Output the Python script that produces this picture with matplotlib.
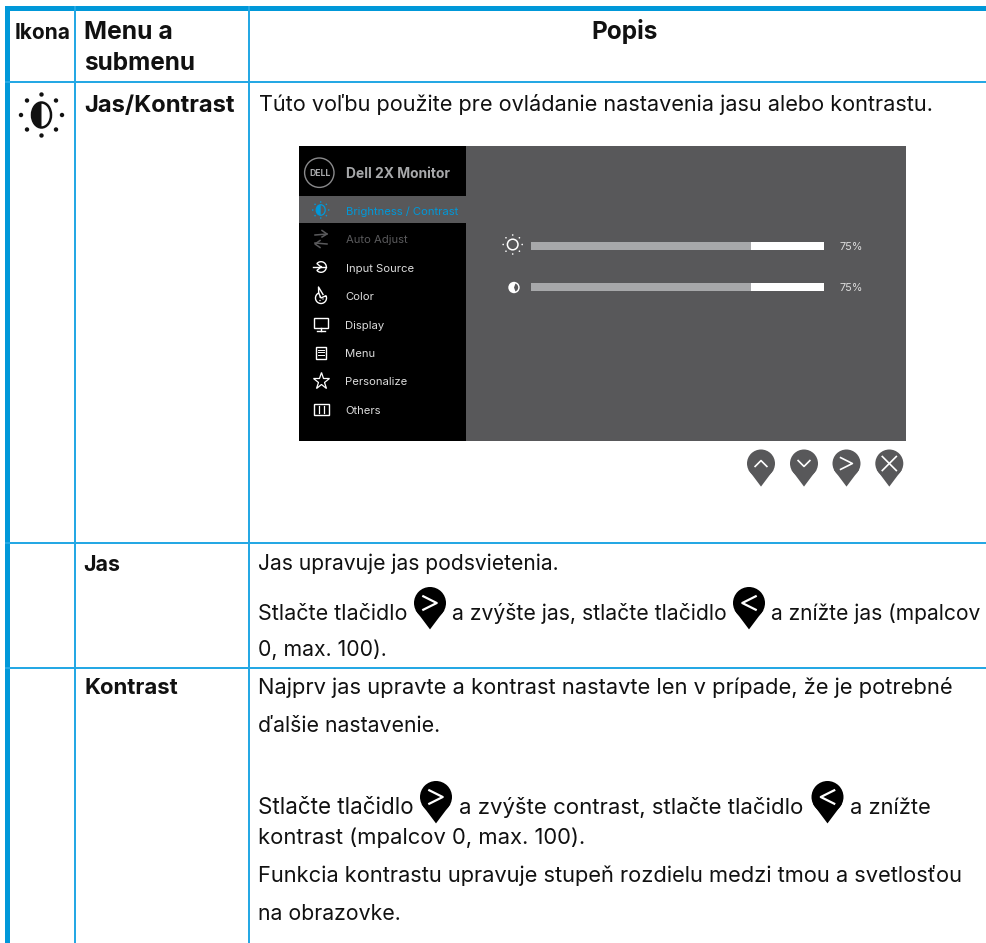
# -*- coding: utf-8 -*-
import math
import matplotlib
matplotlib.use("Agg")
import matplotlib.pyplot as plt
from matplotlib.patches import Rectangle, Circle, Polygon, Ellipse, Wedge

BLUE = '#0098d9'
LINE = '#25a8e4'
DARK = '#58585a'
GREY = '#a7a8aa'
INK = '#111111'

# donnees du tableau
header = ["Ikona", "Menu a", "submenu", "Popis"]
rows = ["Jas/Kontrast", "Jas", "Kontrast"]
menu_items = ["Brightness / Contrast", "Auto Adjust", "Input Source", "Color",
              "Display", "Menu", "Personalize", "Others"]
item_colors = ['#0098d9', '#5a5a5c', '#dcdcdc', '#dcdcdc', '#dcdcdc', '#dcdcdc', '#dcdcdc', '#dcdcdc']
slider_values = [75, 75]
first_row_text = "Túto voľbu použite pre ovládanie nastavenia jasu alebo kontrastu."
jas_lines = ["Jas upravuje jas podsvietenia.", "Stlačte tlačidlo", "a zvýšte jas, stlačte tlačidlo",
             "a znížte jas (mpalcov", "0, max. 100)."]
kontrast_lines = ["Najprv jas upravte a kontrast nastavte len v prípade, že je potrebné",
                  "ďalšie nastavenie.", "Stlačte tlačidlo", "a zvýšte contrast, stlačte tlačidlo",
                  "a znížte", "kontrast (mpalcov 0, max. 100).",
                  "Funkcia kontrastu upravuje stupeň rozdielu medzi tmou a svetlosťou",
                  "na obrazovke."]

plt.rcParams['font.family'] = ['Inter', 'DejaVu Sans']
fig = plt.figure(figsize=(9.86, 9.43), dpi=100)
ax = fig.add_axes([0, 0, 1, 1])
ax.set_xlim(0, 986)
ax.set_ylim(943, 0)
ax.axis('off')
renderer = fig.canvas.get_renderer()


def rect(x0, y0, x1, y1, color, z=2):
    ax.add_patch(Rectangle((x0, y0), x1 - x0, y1 - y0, fc=color, ec='none', zorder=z))


def fit(x0, x1, y, s, color=INK, weight='normal'):
    # texte ajuste a la largeur
    t = ax.text(x0, y, s, fontsize=15, color=color, fontweight=weight, ha='left', va='baseline', zorder=6)
    w = t.get_window_extent(renderer).width
    t.set_fontsize(15 * (x1 - x0) / w)
    return t


def pin(cx, cy, r, color=DARK, sym='>', lw=1.4):
    # bouton en forme de goutte
    ax.add_patch(Circle((cx, cy), r, fc=color, ec='none', zorder=5))
    ax.add_patch(Polygon([(cx - r * 0.9, cy + r * 0.45), (cx + r * 0.9, cy + r * 0.45), (cx, cy + r * 1.65)],
                         fc=color, ec='none', zorder=5))
    s = r * 0.42
    if sym == '>':
        pts = [(cx - s, cy - s), (cx + s, cy), (cx - s, cy + s)]
    elif sym == '<':
        pts = [(cx + s, cy - s), (cx - s, cy), (cx + s, cy + s)]
    elif sym == '^':
        pts = [(cx - s, cy + s * 0.5), (cx, cy - s * 0.5), (cx + s, cy + s * 0.5)]
    elif sym == 'v':
        pts = [(cx - s, cy - s * 0.5), (cx, cy + s * 0.5), (cx + s, cy - s * 0.5)]
    else:
        s = r * 0.5
        ax.plot([cx - s, cx + s], [cy - s, cy + s], color='white', lw=lw, zorder=6)
        ax.plot([cx - s, cx + s], [cy + s, cy - s], color='white', lw=lw, zorder=6)
        return
    ax.plot(*zip(*pts), color='white', lw=lw, zorder=6)


def rays(cx, cy, ray, color, dot):
    for a in range(0, 360, 45):
        ax.add_patch(Circle((cx + ray * math.cos(math.radians(a)), cy + ray * math.sin(math.radians(a))),
                            dot, fc=color, ec='none', zorder=6))


def half_sun(cx, cy, w, h, ray, color, dot, lw=1.5, fill='white'):
    rays(cx, cy, ray, color, dot)
    e = Ellipse((cx, cy), w, h, fc=fill, ec=color, lw=lw, zorder=6)
    ax.add_patch(e)
    wd = Wedge((cx, cy), max(w, h), 90, 270, fc=color, ec='none', zorder=7)
    ax.add_patch(wd)
    wd.set_clip_path(e)


# bordures du tableau
rect(5, 6, 986, 11, BLUE)
rect(5, 6, 10, 943, BLUE)
for x in [75.2, 249.3]:
    rect(x - 1, 6, x + 1, 943, LINE)
for y in [82, 542.7, 667.5]:
    rect(5, y - 1, 986, y + 1, LINE)

# en-tete
fit(14.5, 70.5, 39, header[0], weight='bold')
fit(84, 172.5, 39, header[1], weight='bold')
fit(84, 195, 70.5, header[2], weight='bold')
fit(591, 657.5, 39.3, header[3], weight='bold')

# colonne menu
fit(84, 235, 112, rows[0], weight='bold')
fit(83.5, 120.5, 571, rows[1], weight='bold')
fit(84, 178, 694, rows[2], weight='bold')

# icone de la premiere ligne
half_sun(41.5, 115, 19, 25, 20.5, INK, 2.2, lw=1.8)

# texte de droite
fit(259, 934, 111, first_row_text)
fit(257.5, 558, 570.5, jas_lines[0])
fit(257.5, 407, 620, jas_lines[1])
pin(430, 603, 16, '#000000', '>', lw=1.6)
fit(452, 727, 620, jas_lines[2])
pin(749, 603, 16, '#000000', '<', lw=1.6)
fit(771, 981, 620, jas_lines[3])
fit(257.5, 386.5, 656, jas_lines[4])

fit(257.5, 954, 694.5, kontrast_lines[0])
fit(257.5, 440, 732.5, kontrast_lines[1])
fit(257.5, 413, 813.5, kontrast_lines[2])
pin(436, 797, 16, '#000000', '>', lw=1.6)
fit(459, 804, 813.5, kontrast_lines[3])
pin(827.5, 797, 16, '#000000', '<', lw=1.6)
fit(850, 931, 813.5, kontrast_lines[4])
fit(257.5, 585, 844.5, kontrast_lines[5])
fit(257.5, 965, 882, kontrast_lines[6])
fit(257.5, 400.5, 919.5, kontrast_lines[7])

# ecran OSD
rect(299, 146, 466, 441, '#000000', 3)
rect(466, 146, 906, 441, DARK, 3)
rect(299, 196, 466, 223, DARK, 3)
ax.add_patch(Circle((319.3, 172.7), 14.7, fc='none', ec='#8a8a8c', lw=1, zorder=5))
fit(309, 330, 176, "DELL", color='#a7a8aa', weight='bold')
fit(345.5, 450, 177.5, "Dell 2X Monitor", color='#a7a8aa', weight='bold')

base = fit(345.5, 458.5, 215, menu_items[0], color=item_colors[0])
for i, item in enumerate(menu_items[1:], start=1):
    ax.text(345.5, 215 + i * 28.4, item, fontsize=base.get_fontsize(), color=item_colors[i],
            ha='left', va='baseline', zorder=6)

# icones du menu
half_sun(320.7, 210, 9, 10.5, 8, '#0098d9', 0.8, lw=0.9, fill=DARK)
# ajustement auto
for ys, head in [((235, 234), [(322, 230.5), (327, 234), (322, 237)]),
                 ((243, 244), [(320, 240.5), (315, 244), (320, 247.5)])]:
    ax.plot([315, 327], ys, color='#5a5a5c', lw=1.1, zorder=6)
    ax.plot(*zip(*head), color='#5a5a5c', lw=1.1, zorder=6)
# source
ax.plot([313, 326], [267, 267], color='white', lw=1, zorder=6)
ax.add_patch(Wedge((321, 267), 5.3, -140, 140, fc='none', ec='white', lw=1, zorder=6))
ax.add_patch(Circle((321, 267), 1.2, fc='white', ec='none', zorder=6))
# couleur
ax.add_patch(Wedge((321, 298), 5.5, -25, 245, fc='none', ec='white', lw=1, zorder=6))
ax.plot([318.7, 318.5, 323], [293, 287, 294.5], color='white', lw=1, zorder=6)
ax.add_patch(Circle((320, 297), 0.7, fc='white', ec='none', zorder=6))
ax.add_patch(Circle((323, 299), 0.7, fc='white', ec='none', zorder=6))
ax.add_patch(Circle((320, 300.5), 0.7, fc='white', ec='none', zorder=6))
# ecran
ax.add_patch(Rectangle((314, 318), 14, 10, fc='none', ec='white', lw=1, zorder=6))
ax.plot([321, 321], [328, 331], color='white', lw=1, zorder=6)
ax.plot([317, 325], [331, 331], color='white', lw=1, zorder=6)
# menu
ax.add_patch(Rectangle((316, 346.5), 10, 12, fc='none', ec='white', lw=1, zorder=6))
for y in [349.5, 352.3, 355]:
    ax.plot([318, 324], [y, y], color='white', lw=0.7, zorder=6)
# etoile
ax.plot([321], [381], marker='*', ms=12.5, mfc='none', mec='white', mew=0.9, zorder=6)
# autres
ax.add_patch(Rectangle((314, 403.5), 14.5, 11, fc='none', ec='white', lw=1, zorder=6))
ax.plot([319, 319], [405.5, 412.5], color='white', lw=0.9, zorder=6)
ax.plot([323.5, 323.5], [405.5, 412.5], color='white', lw=0.9, zorder=6)

# curseurs
rays(512.7, 244.5, 9.5, 'white', 0.8)
ax.add_patch(Circle((512.7, 244.5), 5.3, fc='none', ec='white', lw=1.1, zorder=6))
ax.add_patch(Circle((514, 287.5), 5.7, fc='white', ec='none', zorder=6))
ax.add_patch(Wedge((514, 287.5), 4.2, -70, 70, fc=DARK, ec='none', zorder=7))
bar_x0, bar_x1 = 531, 824
for val, y in zip(slider_values, [246, 287]):
    xm = bar_x0 + (bar_x1 - bar_x0) * val / 100
    rect(bar_x0, y - 4, xm, y + 4, GREY, 4)
    rect(xm, y - 4, bar_x1, y + 4, 'white', 4)
    fit(840, 863.5, y + 4, str(val) + "%", color='#dcdcdc')

# boutons sous l'ecran
for x, s in zip([761, 804, 846.5, 889.3], ['^', 'v', '>', 'x']):
    pin(x, 463.5, 14, DARK, s, lw=1.2)

fig.savefig('out.png', dpi=100)
